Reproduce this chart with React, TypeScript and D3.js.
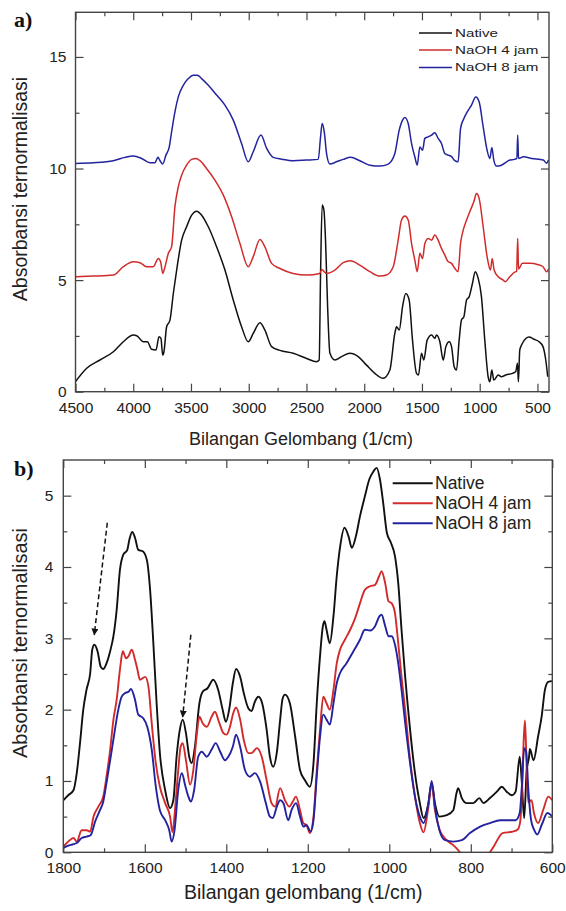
import React, { useEffect, useRef } from 'react';
import * as d3 from 'd3';

type Pt = [number, number];

// legend / series
const seriesNames = ['Native', 'NaOH 4 jam', 'NaOH 8 jam'];
const seriesColors = ['#111111', '#d22b2b', '#23239f'];

// tick labels
const topXTicks = [4500, 4000, 3500, 3000, 2500, 2000, 1500, 1000, 500];
const topXMinor = [4250, 3750, 3250, 2750, 2250, 1750, 1250, 750];
const topYTicks = [0, 5, 10, 15];
const topYMinor = [2.5, 7.5, 12.5];
const botXTicks = [1800, 1600, 1400, 1200, 1000, 800, 600];
const botXMinor = [1700, 1500, 1300, 1100, 900, 700];
const botYTicks = [0, 1, 2, 3, 4, 5];
const botYMinor = [0.5, 1.5, 2.5, 3.5, 4.5];

// panel a) : full spectrum, offset curves [wavenumber, absorbance]
const topNative: Pt[] = [
  [4500, 0.45], [4403, 1.05], [4288, 1.42], [4172, 1.79], [4086, 2.24], [4000, 2.54], [3970, 2.51],
  [3913, 2.24], [3878, 2.24], [3841, 1.9], [3803, 1.87], [3777, 2.46], [3760, 2.39], [3745, 1.64],
  [3734, 1.79], [3711, 2.91], [3682, 3.21], [3653, 4.4], [3624, 5.45], [3581, 6.79], [3538, 7.39],
  [3494, 7.91], [3451, 8.09], [3408, 7.91], [3350, 7.39], [3278, 6.49], [3206, 5.45], [3134, 4.11],
  [3062, 2.91], [3004, 2.24], [2961, 2.61], [2903, 3.09], [2860, 2.76], [2802, 2.02], [2730, 1.85],
  [2615, 1.72], [2499, 1.49], [2413, 1.34], [2390, 1.42], [2378, 5.3], [2364, 8.36], [2349, 8.14],
  [2335, 6.79], [2317, 3.81], [2297, 1.72], [2254, 1.42], [2196, 1.57], [2124, 1.72], [2052, 1.57],
  [1980, 1.19], [1908, 0.82], [1836, 0.6], [1778, 0.97], [1735, 2.61], [1720, 2.91], [1697, 2.76],
  [1668, 3.81], [1640, 4.4], [1611, 4.11], [1582, 2.31], [1547, 0.82], [1530, 0.75], [1504, 1.72],
  [1484, 1.42], [1455, 2.31], [1417, 2.54], [1389, 2.39], [1374, 2.54], [1345, 2.24], [1316, 1.42],
  [1293, 2.02], [1264, 2.24], [1244, 2.02], [1221, 1.12], [1201, 0.97], [1178, 2.31], [1158, 3.21],
  [1137, 3.36], [1114, 4.11], [1091, 4.26], [1063, 4.85], [1039, 5.38], [1013, 5.08], [985, 4.26],
  [956, 2.31], [927, 0.67], [912, 0.45], [895, 0.97], [878, 0.52], [840, 0.75], [812, 0.67],
  [774, 0.75], [716, 0.82], [688, 0.9], [673, 1.27], [665, 0.45], [653, 1.87], [630, 2.17],
  [573, 2.45], [530, 2.35], [486, 2.24], [452, 2.02], [428, 1.42], [411, 0.67],
];
const top4h: Pt[] = [
  [4500, 5.15], [4345, 5.18], [4172, 5.23], [4086, 5.6], [4000, 5.82], [3942, 5.78], [3884, 5.6],
  [3826, 5.6], [3783, 5.97], [3763, 5.82], [3745, 5.3], [3725, 5.6], [3696, 6.2], [3668, 6.49],
  [3639, 8.29], [3610, 9.18], [3581, 9.7], [3538, 10.15], [3494, 10.41], [3457, 10.45], [3422, 10.35],
  [3365, 10.0], [3293, 9.48], [3220, 8.81], [3148, 7.84], [3076, 6.64], [3004, 5.6], [2961, 6.05],
  [2903, 6.82], [2860, 6.49], [2802, 5.75], [2730, 5.52], [2615, 5.3], [2499, 5.23], [2384, 5.3],
  [2369, 5.48], [2326, 5.3], [2254, 5.45], [2182, 5.78], [2118, 5.87], [2038, 5.67], [1951, 5.38],
  [1865, 5.18], [1807, 5.23], [1749, 5.6], [1706, 6.79], [1677, 7.69], [1648, 7.87], [1619, 7.69],
  [1590, 6.64], [1562, 5.9], [1541, 5.38], [1518, 6.2], [1495, 5.97], [1475, 6.64], [1446, 6.87],
  [1417, 6.79], [1389, 7.02], [1360, 6.79], [1331, 6.42], [1302, 6.12], [1273, 5.82], [1244, 5.75],
  [1215, 5.52], [1187, 5.38], [1166, 6.64], [1143, 7.24], [1114, 7.69], [1080, 8.14], [1051, 8.51],
  [1028, 8.88], [1005, 8.66], [970, 7.39], [936, 6.05], [907, 5.45], [892, 5.97], [875, 5.45],
  [840, 5.15], [797, 5.0], [780, 4.93], [740, 5.15], [700, 5.35], [680, 5.4], [671, 6.87],
  [664, 5.5], [630, 5.75], [560, 5.75], [500, 5.7], [452, 5.6], [420, 5.37], [405, 5.5],
];
const top8h: Pt[] = [
  [4500, 10.23], [4345, 10.26], [4172, 10.35], [4071, 10.5], [4000, 10.56], [3927, 10.45], [3855, 10.26],
  [3812, 10.26], [3786, 10.5], [3768, 10.35], [3745, 10.2], [3717, 10.6], [3688, 10.97], [3668, 11.64],
  [3639, 12.54], [3610, 13.21], [3567, 13.73], [3523, 14.03], [3480, 14.18], [3445, 14.18], [3408, 14.03],
  [3350, 13.73], [3278, 13.29], [3206, 12.84], [3134, 12.17], [3062, 11.12], [3004, 10.3], [2961, 10.75],
  [2894, 11.5], [2845, 10.9], [2788, 10.5], [2715, 10.42], [2615, 10.35], [2499, 10.38], [2398, 10.41],
  [2378, 11.42], [2364, 12.02], [2346, 11.64], [2326, 10.67], [2297, 10.2], [2240, 10.3], [2182, 10.41],
  [2118, 10.5], [2038, 10.35], [1951, 10.15], [1865, 10.11], [1792, 10.2], [1735, 10.67], [1697, 11.72],
  [1668, 12.17], [1648, 12.29], [1619, 12.02], [1590, 11.12], [1562, 10.53], [1541, 10.15], [1518, 10.97],
  [1495, 10.82], [1475, 11.35], [1446, 11.42], [1417, 11.5], [1389, 11.6], [1360, 11.35], [1331, 11.12],
  [1302, 10.67], [1273, 10.6], [1244, 10.53], [1215, 10.35], [1187, 10.3], [1166, 11.79], [1137, 12.24],
  [1108, 12.54], [1071, 12.84], [1034, 13.21], [1005, 12.99], [970, 11.87], [936, 10.82], [912, 10.45],
  [895, 10.94], [878, 10.38], [855, 10.11], [812, 10.15], [739, 10.38], [700, 10.41], [678, 10.45],
  [671, 11.5], [664, 10.45], [620, 10.53], [550, 10.45], [450, 10.38], [420, 10.24], [405, 10.38],
];

// panel b) : 1800-600 region
const botNative: Pt[] = [
  [1800, 0.73], [1788, 0.8], [1775, 0.87], [1767, 1.11], [1759, 1.53], [1751, 2.0], [1743, 2.28],
  [1734, 2.51], [1729, 2.84], [1724, 2.91], [1716, 2.82], [1708, 2.6], [1702, 2.57], [1694, 2.65],
  [1685, 2.82], [1677, 3.03], [1669, 3.4], [1661, 3.96], [1653, 4.17], [1643, 4.24], [1638, 4.38],
  [1631, 4.49], [1624, 4.41], [1616, 4.24], [1605, 4.22], [1595, 4.1], [1587, 3.68], [1579, 2.93],
  [1571, 2.09], [1563, 1.39], [1550, 0.87], [1538, 0.62], [1530, 0.73], [1522, 1.34], [1514, 1.72],
  [1507, 1.86], [1499, 1.67], [1491, 1.34], [1485, 1.25], [1477, 1.48], [1466, 2.09], [1458, 2.25],
  [1446, 2.3], [1432, 2.42], [1420, 2.28], [1409, 2.0], [1401, 1.83], [1393, 2.0], [1384, 2.37],
  [1376, 2.57], [1366, 2.46], [1357, 2.23], [1346, 2.02], [1338, 1.98], [1330, 2.11], [1321, 2.18],
  [1312, 2.09], [1301, 1.72], [1293, 1.34], [1285, 1.2], [1276, 1.4], [1268, 1.85], [1262, 2.15],
  [1256, 2.21], [1244, 2.09], [1231, 1.62], [1219, 1.15], [1207, 1.01], [1195, 0.92], [1186, 1.25],
  [1178, 2.09], [1170, 2.75], [1163, 3.17], [1159, 3.24], [1154, 3.12], [1146, 2.93], [1137, 3.31],
  [1129, 3.87], [1121, 4.27], [1110, 4.55], [1100, 4.43], [1092, 4.27], [1082, 4.43], [1072, 4.71],
  [1060, 4.99], [1049, 5.23], [1039, 5.34], [1031, 5.39], [1023, 5.23], [1015, 4.9], [1006, 4.48],
  [996, 4.34], [986, 4.15], [978, 3.77], [970, 3.12], [961, 2.46], [949, 1.72], [937, 1.11],
  [925, 0.69], [916, 0.48], [904, 0.69], [896, 0.97], [888, 0.69], [877, 0.5], [859, 0.52],
  [843, 0.59], [835, 0.83], [831, 0.9], [822, 0.76], [810, 0.69], [794, 0.69], [779, 0.76],
  [769, 0.69], [753, 0.76], [736, 0.85], [724, 0.92], [712, 0.85], [699, 0.8], [690, 0.85],
  [680, 1.34], [675, 1.0], [669, 0.48], [663, 1.14], [657, 1.34], [655, 1.45], [646, 1.29],
  [635, 1.62], [626, 1.91], [618, 2.28], [610, 2.39], [600, 2.4],
];
const bot4h: Pt[] = [
  [1800, 0.08], [1788, 0.15], [1775, 0.2], [1767, 0.15], [1755, 0.31], [1743, 0.31], [1734, 0.29],
  [1726, 0.5], [1714, 0.64], [1702, 0.78], [1694, 1.06], [1685, 1.44], [1677, 1.86], [1669, 2.14],
  [1661, 2.56], [1654, 2.82], [1646, 2.72], [1640, 2.75], [1632, 2.84], [1624, 2.7], [1618, 2.56],
  [1612, 2.42], [1599, 2.46], [1591, 2.32], [1583, 1.81], [1573, 1.25], [1563, 0.92], [1550, 0.69],
  [1538, 0.5], [1532, 0.28], [1526, 0.59], [1518, 1.15], [1512, 1.48], [1507, 1.53], [1499, 1.29],
  [1489, 0.95], [1481, 1.15], [1473, 1.62], [1466, 1.9], [1458, 1.81], [1448, 1.76], [1436, 1.9],
  [1428, 1.97], [1417, 1.81], [1407, 1.67], [1399, 1.65], [1391, 1.76], [1383, 1.95], [1376, 2.03],
  [1366, 1.86], [1357, 1.57], [1346, 1.39], [1338, 1.39], [1325, 1.46], [1313, 1.34], [1301, 1.01],
  [1289, 0.69], [1280, 0.64], [1268, 0.9], [1256, 0.73], [1245, 0.64], [1237, 0.71], [1229, 0.78],
  [1219, 0.59], [1211, 0.41], [1203, 0.38], [1195, 0.27], [1186, 0.5], [1178, 1.15], [1170, 1.72],
  [1162, 2.18], [1154, 2.09], [1146, 2.0], [1137, 2.28], [1129, 2.65], [1121, 2.84], [1109, 2.98],
  [1096, 3.12], [1084, 3.28], [1072, 3.49], [1060, 3.68], [1047, 3.73], [1035, 3.75], [1025, 3.87],
  [1019, 3.94], [1010, 3.77], [1002, 3.52], [994, 3.49], [986, 3.35], [978, 2.93], [970, 2.46],
  [961, 1.99], [949, 1.29], [937, 0.78], [925, 0.41], [916, 0.28], [904, 0.64], [896, 0.97],
  [888, 0.59], [876, 0.31], [859, 0.17], [843, 0.1], [831, 0.03], [820, -0.05], [790, -0.2],
  [760, -0.05], [753, 0.0], [742, 0.1], [722, 0.27], [697, 0.29], [685, 0.32], [679, 0.42],
  [674, 0.9], [670, 1.6], [667, 1.85], [663, 1.2], [659, 0.7], [651, 0.73], [645, 0.55],
  [635, 0.41], [622, 0.6], [610, 0.78], [600, 0.73],
];
const bot8h: Pt[] = [
  [1800, 0.06], [1784, 0.1], [1767, 0.13], [1755, 0.2], [1743, 0.22], [1733, 0.24], [1722, 0.43],
  [1710, 0.59], [1702, 0.71], [1694, 0.97], [1685, 1.29], [1676, 1.62], [1665, 2.0], [1657, 2.18],
  [1649, 2.23], [1640, 2.25], [1634, 2.29], [1624, 2.14], [1616, 1.93], [1604, 1.88], [1594, 1.76],
  [1583, 1.44], [1573, 0.92], [1563, 0.59], [1550, 0.45], [1540, 0.31], [1534, 0.15], [1527, 0.31],
  [1518, 0.87], [1509, 1.11], [1501, 0.94], [1493, 0.78], [1487, 0.71], [1479, 0.87], [1469, 1.34],
  [1460, 1.41], [1448, 1.34], [1436, 1.44], [1426, 1.53], [1415, 1.41], [1403, 1.29], [1395, 1.34],
  [1384, 1.48], [1376, 1.65], [1366, 1.48], [1354, 1.15], [1342, 1.06], [1330, 1.11], [1317, 0.99],
  [1303, 0.69], [1293, 0.5], [1286, 0.48], [1276, 0.64], [1268, 0.73], [1260, 0.69], [1248, 0.45],
  [1240, 0.59], [1229, 0.69], [1219, 0.5], [1211, 0.36], [1203, 0.38], [1193, 0.29], [1186, 0.45],
  [1178, 1.06], [1170, 1.62], [1162, 1.93], [1154, 1.86], [1146, 1.79], [1137, 2.09], [1129, 2.37],
  [1121, 2.51], [1105, 2.65], [1088, 2.82], [1072, 2.98], [1060, 3.12], [1047, 3.11], [1035, 3.17],
  [1024, 3.31], [1019, 3.33], [1010, 3.17], [1002, 3.03], [994, 3.03], [986, 2.91], [978, 2.65],
  [970, 2.28], [961, 1.81], [949, 1.25], [937, 0.78], [925, 0.5], [916, 0.41], [904, 0.69],
  [896, 1.0], [888, 0.64], [877, 0.31], [863, 0.17], [843, 0.15], [822, 0.17], [802, 0.27],
  [777, 0.36], [753, 0.41], [728, 0.45], [704, 0.45], [690, 0.45], [680, 0.55], [675, 0.9],
  [669, 1.46], [664, 1.4], [659, 0.9], [652, 0.45], [645, 0.32], [637, 0.25], [625, 0.4],
  [612, 0.55], [600, 0.5],
];

// dashed arrows in panel b): [from, to]
const arrows: [Pt, Pt][] = [
  [[1692, 4.62], [1724, 3.05]],
  [[1487, 3.05], [1507, 1.9]],
];

const SANS = 'Liberation Sans, Arial, Helvetica, sans-serif';

const drawPanel = (svg: any, o: any) => {
  const { x, y, xTicks, xMinor, yTicks, yMinor, series, lw, clipId } = o;
  const [x0, x1] = x.range();
  const [y0, y1] = y.range();

  svg.select('defs').append('clipPath').attr('id', clipId)
    .append('rect').attr('x', x0).attr('y', y1).attr('width', x1 - x0).attr('height', y0 - y1);

  const line = d3.line<Pt>().x(d => x(d[0])).y(d => y(d[1])).curve(d3.curveMonotoneX);
  const lines = svg.append('g').attr('clip-path', `url(#${clipId})`);
  series.forEach((s: Pt[], i: number) => {
    lines.append('path').attr('d', line(s)).attr('fill', 'none')
      .attr('stroke', seriesColors[i]).attr('stroke-width', lw).attr('stroke-linejoin', 'round');
  });

  const fmt = d3.format('d');
  const style = (g: any) => {
    g.select('.domain').remove();
    g.selectAll('line').attr('stroke', '#444').attr('stroke-width', 1.2);
    g.selectAll('text').attr('font-family', SANS).attr('font-size', 15.5).attr('fill', '#222');
  };
  const add = (axis: any, tr: string) => svg.append('g').attr('transform', tr).call(axis).call(style);

  add(d3.axisBottom(x).tickValues(xTicks).tickFormat(fmt).tickSizeInner(-8).tickSizeOuter(0).tickPadding(o.xPad), `translate(0,${y0})`);
  add(d3.axisBottom(x).tickValues(xMinor).tickFormat(() => '').tickSizeInner(-4).tickSizeOuter(0), `translate(0,${y0})`);
  add(d3.axisTop(x).tickValues(xTicks).tickFormat(() => '').tickSizeInner(-8).tickSizeOuter(0), `translate(0,${y1})`);
  add(d3.axisTop(x).tickValues(xMinor).tickFormat(() => '').tickSizeInner(-4).tickSizeOuter(0), `translate(0,${y1})`);
  add(d3.axisLeft(y).tickValues(yTicks).tickFormat(fmt).tickSizeInner(-8).tickSizeOuter(0).tickPadding(o.yPad), `translate(${x0},0)`);
  add(d3.axisLeft(y).tickValues(yMinor).tickFormat(() => '').tickSizeInner(-4).tickSizeOuter(0), `translate(${x0},0)`);
  add(d3.axisRight(y).tickValues(yTicks).tickFormat(() => '').tickSizeInner(-8).tickSizeOuter(0), `translate(${x1},0)`);
  add(d3.axisRight(y).tickValues(yMinor).tickFormat(() => '').tickSizeInner(-4).tickSizeOuter(0), `translate(${x1},0)`);

  svg.append('rect').attr('x', x0).attr('y', y1).attr('width', x1 - x0).attr('height', y0 - y1)
    .attr('fill', 'none').attr('stroke', '#444').attr('stroke-width', 1.4);
};

const App = () => {
  const ref = useRef<SVGSVGElement | null>(null);

  useEffect(() => {
    if (!ref.current) return;
    const svg = d3.select(ref.current);
    svg.selectAll('*').remove();
    const defs = svg.append('defs');
    defs.append('marker').attr('id', 'arrowHead').attr('viewBox', '0 0 8 8')
      .attr('refX', 7).attr('refY', 4).attr('markerWidth', 7).attr('markerHeight', 7)
      .attr('markerUnits', 'userSpaceOnUse').attr('orient', 'auto')
      .append('path').attr('d', 'M0,0 L8,4 L0,8 Z').attr('fill', '#111');

    // ---- panel a)
    const xa = d3.scaleLinear().domain([4500, 400]).range([75.5, 549]);
    const ya = d3.scaleLinear().domain([0, 17]).range([391.7, 12.3]);
    drawPanel(svg, {
      x: xa, y: ya, xTicks: topXTicks, xMinor: topXMinor, yTicks: topYTicks, yMinor: topYMinor,
      series: [topNative, top4h, top8h], lw: 1.5, clipId: 'clipA', xPad: 10, yPad: 9,
    });

    // ---- panel b)
    const xb = d3.scaleLinear().domain([1800, 600]).range([63.3, 552.3]);
    const yb = d3.scaleLinear().domain([0, 5.5]).range([852.3, 460]);
    drawPanel(svg, {
      x: xb, y: yb, xTicks: botXTicks, xMinor: botXMinor, yTicks: botYTicks, yMinor: botYMinor,
      series: [botNative, bot4h, bot8h], lw: 1.9, clipId: 'clipB', xPad: 10, yPad: 10,
    });

    arrows.forEach(([a, b]) => {
      svg.append('line')
        .attr('x1', xb(a[0])).attr('y1', yb(a[1])).attr('x2', xb(b[0])).attr('y2', yb(b[1]))
        .attr('stroke', '#111').attr('stroke-width', 1.5).attr('stroke-dasharray', '5,3')
        .attr('marker-end', 'url(#arrowHead)');
    });

    // legends
    const legA = [33, 50, 67.5];
    seriesNames.forEach((n, i) => {
      svg.append('line').attr('x1', 419).attr('x2', 452).attr('y1', legA[i]).attr('y2', legA[i])
        .attr('stroke', seriesColors[i]).attr('stroke-width', 1.6);
      svg.append('text').attr('transform', `translate(455,${legA[i]}) scale(1.32,1)`)
        .attr('dominant-baseline', 'central').attr('font-family', SANS).attr('font-size', 11.5)
        .attr('fill', '#222').text(n);
    });
    const legB = [483.3, 503.3, 523.3];
    seriesNames.forEach((n, i) => {
      svg.append('line').attr('x1', 392.7).attr('x2', 432.7).attr('y1', legB[i]).attr('y2', legB[i])
        .attr('stroke', seriesColors[i]).attr('stroke-width', 2);
      svg.append('text').attr('x', 435).attr('y', legB[i])
        .attr('dominant-baseline', 'central').attr('font-family', SANS).attr('font-size', 17.5)
        .attr('fill', '#222').text(n);
    });

    // panel letters
    svg.append('text').attr('x', 14).attr('y', 27).attr('font-family', 'Liberation Serif, Times New Roman, serif')
      .attr('font-weight', 'bold').attr('font-size', 22).attr('fill', '#111').text('a)');
    svg.append('text').attr('x', 14).attr('y', 476).attr('font-family', 'Liberation Serif, Times New Roman, serif')
      .attr('font-weight', 'bold').attr('font-size', 22).attr('fill', '#111').text('b)');

    // axis titles
    svg.append('text').attr('x', 189).attr('y', 445).attr('font-family', SANS).attr('font-size', 18)
      .attr('fill', '#222').text('Bilangan Gelombang (1/cm)');
    svg.append('text').attr('x', 184).attr('y', 899).attr('font-family', SANS).attr('font-size', 19.5)
      .attr('fill', '#222').text('Bilangan gelombang (1/cm)');
    svg.append('text').attr('transform', 'translate(27,189) rotate(-90)').attr('text-anchor', 'middle')
      .attr('font-family', SANS).attr('font-size', 19.5).attr('fill', '#222').text('Absorbansi ternormalisasi');
    svg.append('text').attr('transform', 'translate(27,643) rotate(-90)').attr('text-anchor', 'middle')
      .attr('font-family', SANS).attr('font-size', 20).attr('fill', '#222').text('Absorbansi ternormalisasi');
  }, []);

  return (
    <svg ref={ref} width={566} height={911}
      style={{ position: 'absolute', left: 0, top: 0, background: '#fff' }} />
  );
};

export default App;
